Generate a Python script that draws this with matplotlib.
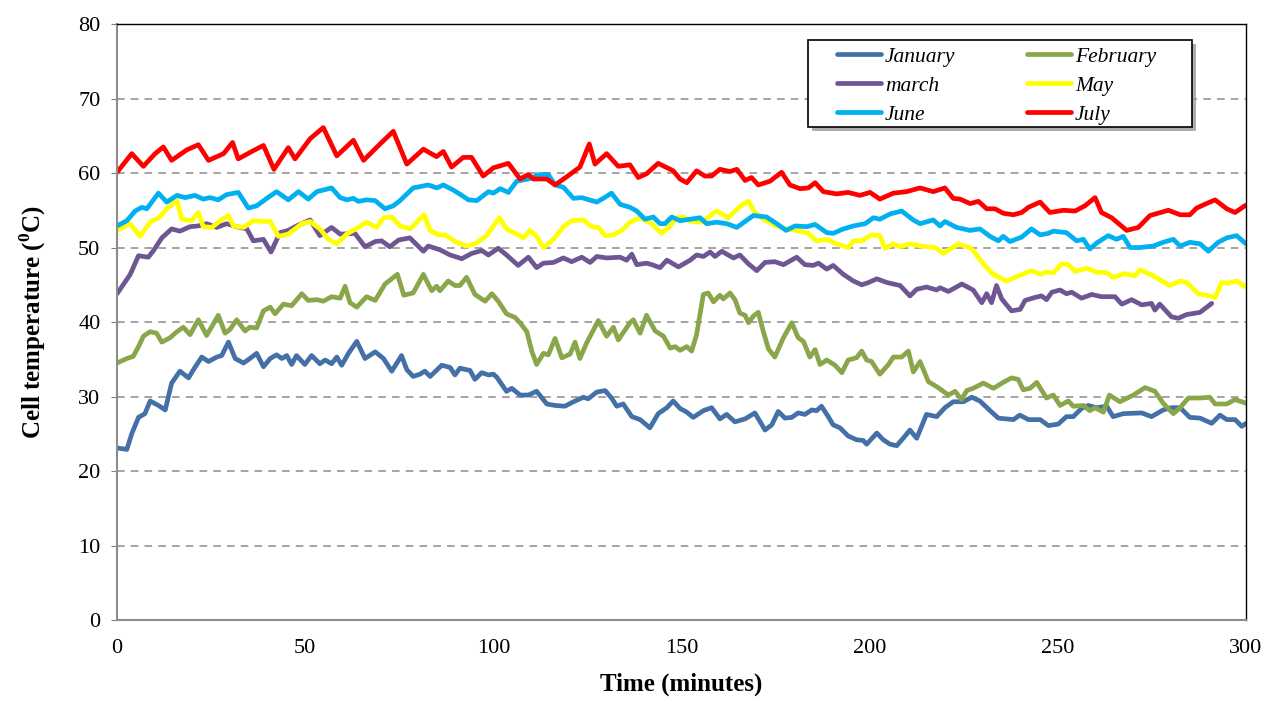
import matplotlib.pyplot as plt
from matplotlib.patches import Rectangle

plt.rcParams['font.family'] = 'Liberation Serif'
plt.rcParams['mathtext.fontset'] = 'custom'
plt.rcParams['mathtext.rm'] = 'Liberation Serif'
plt.rcParams['mathtext.bf'] = 'Liberation Serif:bold'

# Cell temperature logs (minutes, deg C) for each month
jan_t = [0, 2.6, 3.9, 5.7, 7.4, 8.8, 11, 12.8, 14.5, 16.7, 19, 20.3, 22.5, 24.3, 26.5, 27.8, 29.6, 31.4, 33.6, 35.3,
         37.1, 38.9, 40.7, 42.4, 43.8, 45.1, 46.4, 47.7, 49.9, 51.7, 53.9, 55.3, 57, 58.4, 59.7, 61.5, 63.7, 65.9,
         68.6, 70.8, 73, 75.6, 77, 78.7, 80.5, 81.8, 83.2, 86.3, 88.5, 89.8, 91.1, 93.8, 95.1, 96.9, 98.7, 100,
         100.9, 103.5, 104.9, 107.1, 109.3, 111.5, 114.2, 116.4, 119, 121.3, 123.9, 125.2, 127.5, 129.7, 131.4,
         132.8, 134.5, 136.8, 139, 141.6, 143.8, 146.1, 147.8, 149.6, 151.4, 153.1, 155.8, 158, 160.2, 162, 164.2,
         166.9, 169.5, 172.2, 174, 175.7, 177.5, 179.3, 181, 182.8, 184.6, 185.9, 187.2, 189, 190.3, 192.1, 194.3,
         196.5, 198.3, 199.2, 201.9, 203.6, 205.4, 207.2, 209.4, 210.7, 212.5, 215.1, 217.8, 220, 222.2, 224.9,
         227.1, 229.3, 232, 234.2, 238.2, 239.9, 242.2, 245.3, 247.5, 250.1, 252.3, 254.1, 256.3, 258.1, 260.3,
         263, 264.7, 267.4, 272.3, 274.9, 278, 280.2, 282.5, 285.1, 287.8, 290.9, 293.1, 294.9, 297.1, 298.9, 300]
jan_v = [23.1, 22.9, 25, 27.2, 27.7, 29.4, 28.8, 28.2, 31.8, 33.4, 32.5, 33.6, 35.3, 34.7, 35.3, 35.5, 37.3, 35.1,
         34.5, 35.1, 35.8, 34, 35.1, 35.6, 35.1, 35.5, 34.3, 35.5, 34.3, 35.5, 34.4, 34.9, 34.4, 35.3, 34.2, 35.8,
         37.4, 35.1, 36, 35.1, 33.4, 35.5, 33.6, 32.7, 33, 33.4, 32.7, 34.2, 33.9, 32.9, 33.8, 33.5, 32.3, 33.2,
         32.9, 33, 32.6, 30.7, 31.1, 30.2, 30.2, 30.7, 29, 28.8, 28.7, 29.3, 29.9, 29.7, 30.6, 30.8, 29.8, 28.7,
         29, 27.3, 26.9, 25.8, 27.7, 28.5, 29.4, 28.4, 27.9, 27.2, 28.1, 28.5, 27, 27.6, 26.6, 27, 27.8, 25.5,
         26.2, 28, 27.1, 27.2, 27.8, 27.6, 28.2, 28.1, 28.7, 27.3, 26.2, 25.8, 24.7, 24.2, 24.1, 23.6, 25.1, 24.2,
         23.6, 23.4, 24.7, 25.5, 24.4, 27.6, 27.3, 28.5, 29.3, 29.3, 29.9, 29.4, 28.1, 27.1, 26.9, 27.5, 26.9,
         26.9, 26.1, 26.3, 27.3, 27.3, 28.4, 28.8, 28.5, 28.7, 27.3, 27.7, 27.8, 27.3, 28.2, 28.5, 28.5, 27.2,
         27.1, 26.4, 27.5, 26.9, 26.9, 26, 26.4]

feb_t = [0, 2.6, 4.3, 5.7, 7, 8.8, 10.5, 11.9, 14.1, 15.9, 17.6, 19.4, 21.6, 23.8, 25.2, 26.9, 28.7, 30, 31.8, 34,
         35.3, 37.1, 38.9, 40.7, 42, 44.2, 46.4, 49.1, 50.8, 53.1, 54.8, 57, 59.3, 60.6, 61.9, 63.7, 66.3, 68.6,
         71.2, 74.5, 76.2, 78.7, 81.4, 83.6, 84.9, 85.8, 88, 89.8, 91.1, 92.9, 95.1, 97.8, 99.6, 101.3, 103.5,
         105.8, 107.1, 108.9, 110.2, 111.5, 113.3, 114.6, 116.4, 118.2, 120.4, 121.7, 123, 124.8, 127.9, 130.1,
         131.9, 133.2, 136.3, 137.2, 139, 140.7, 143, 145.2, 147, 148.3, 149.6, 151.4, 152.7, 154, 155.8, 157.1,
         158.5, 160.2, 161.1, 162.9, 164.2, 165.5, 166.9, 167.8, 169.1, 170.4, 171.7, 173.1, 174.8, 177.1, 179.3,
         181, 182.4, 184.1, 185.5, 186.8, 188.6, 190.8, 192.6, 194.3, 196.5, 197.9, 199.2, 200.5, 202.7, 205,
         206.3, 208.5, 210.3, 211.6, 213.4, 215.6, 218.2, 220.9, 222.7, 224.4, 225.8, 227.5, 230.2, 232.9, 235.5,
         237.7, 239.5, 240.8, 242.6, 244.4, 247, 248.8, 250.6, 252.8, 254.1, 256.8, 258.5, 259.9, 262.1, 263.7,
         266.5, 270.1, 273.2, 275.8, 278, 280.7, 282.5, 284.7, 287.8, 290.4, 291.8, 294.9, 297.1, 300]
feb_v = [34.5, 35.1, 35.4, 36.7, 38.1, 38.7, 38.5, 37.3, 37.9, 38.7, 39.3, 38.3, 40.3, 38.2, 39.4, 40.9, 38.5, 39,
         40.3, 38.8, 39.3, 39.2, 41.5, 42, 41.1, 42.4, 42.2, 43.8, 42.9, 43, 42.8, 43.4, 43.2, 44.8, 42.6, 42,
         43.4, 42.9, 45.1, 46.4, 43.6, 43.9, 46.4, 44.2, 44.8, 44.2, 45.5, 44.9, 44.9, 46, 43.7, 42.8, 43.8, 42.8,
         41.1, 40.6, 39.9, 38.7, 36.1, 34.3, 35.8, 35.6, 37.8, 35.2, 35.7, 37.3, 35.1, 37.2, 40.2, 38.1, 39.3,
         37.6, 39.9, 40.3, 38.5, 40.9, 38.8, 38.1, 36.5, 36.7, 36.2, 36.7, 36.1, 38.3, 43.7, 43.9, 42.7, 43.6,
         43.1, 43.9, 43, 41.2, 40.9, 39.9, 40.8, 41.3, 38.8, 36.4, 35.3, 37.9, 39.9, 37.9, 37.4, 35.3, 36.3, 34.3,
         34.9, 34.2, 33.2, 34.9, 35.2, 36.1, 34.9, 34.7, 33, 34.3, 35.3, 35.3, 36.1, 33.3, 34.7, 32, 31.2, 30.2,
         30.7, 29.6, 30.8, 31.1, 31.8, 31.1, 31.9, 32.5, 32.3, 30.9, 31.1, 31.9, 29.8, 30.2, 28.8, 29.4, 28.7,
         28.8, 28.1, 28.5, 27.9, 30.2, 29.3, 30.2, 31.2, 30.7, 29.1, 27.7, 28.5, 29.8, 29.8, 29.9, 29, 29, 29.6,
         29.1]

mar_t = [0, 3.5, 5.7, 8.3, 9.7, 11.9, 14.5, 16.7, 19.4, 21.6, 23.8, 26.5, 29.1, 31.8, 34.5, 36.2, 38.9, 40.9, 43.3,
         45.5, 47.7, 51.3, 53.9, 57, 59.3, 63.2, 65.9, 68.6, 70.3, 72.5, 74.8, 77.8, 81.4, 82.7, 85.8, 88.5, 91.6,
         94.2, 96.9, 98.7, 101.3, 103.5, 106.6, 109.3, 111.5, 113.3, 116, 118.6, 120.8, 123.5, 125.7, 127.5,
         130.1, 133.7, 135.4, 136.8, 138.1, 140.7, 142.1, 144.3, 146.1, 149.2, 152.3, 154, 155.8, 157.6, 158.9,
         160.7, 163.8, 165.5, 167.8, 170, 172.2, 174.8, 177.1, 180.6, 182.8, 185, 186.4, 188.6, 190.3, 193, 195.7,
         197.9, 199.7, 201.9, 204.6, 208.1, 210.7, 212.5, 215.1, 217.8, 218.7, 220.9, 224.5, 227.5, 229.8, 231.1,
         232.4, 233.7, 235.1, 237.7, 240, 241.3, 243.9, 245.7, 247, 248.4, 250.6, 252.3, 253.7, 256.3, 259, 261.6,
         265.2, 267, 269.6, 272.3, 274.9, 275.8, 277.1, 280.2, 282, 284.2, 287.8, 290.9]
mar_v = [43.8, 46.4, 48.9, 48.7, 49.6, 51.3, 52.5, 52.2, 52.8, 52.9, 53.2, 52.7, 53.2, 52.8, 52.5, 50.9, 51.1, 49.4,
         52, 52.3, 52.9, 53.7, 51.6, 52.7, 51.8, 51.9, 50.1, 50.8, 50.9, 50.1, 51, 51.3, 49.5, 50.2, 49.7, 49, 48.5,
         49.2, 49.6, 49, 49.9, 49, 47.6, 48.7, 47.3, 47.9, 48, 48.6, 48.1, 48.7, 48, 48.8, 48.6, 48.7, 48.3, 49.1,
         47.7, 47.9, 47.7, 47.3, 48.3, 47.4, 48.3, 49, 48.8, 49.4, 48.8, 49.5, 48.6, 49, 47.8, 46.9, 48, 48.1, 47.7,
         48.7, 47.7, 47.6, 47.9, 47.1, 47.6, 46.4, 45.5, 45, 45.3, 45.8, 45.3, 44.9, 43.5, 44.4, 44.7, 44.3, 44.6,
         44.1, 45.1, 44.3, 42.6, 43.8, 42.6, 44.9, 43.1, 41.5, 41.7, 42.9, 43.3, 43.5, 43, 44, 44.3, 43.8, 44,
         43.2, 43.7, 43.4, 43.4, 42.4, 43, 42.3, 42.5, 41.6, 42.4, 40.7, 40.5, 41, 41.3, 42.5]

may_t = [0, 3.5, 6.1, 8.8, 11.4, 13.2, 15.9, 17.2, 19.8, 21.6, 22.9, 25.2, 27.4, 29.6, 30.9, 33.6, 36.2, 38.9, 40.7,
         42.9, 45.5, 49.1, 51.3, 53.9, 56.2, 58.4, 61, 64.1, 66.3, 69, 70.8, 73, 75.2, 77.9, 81.6, 83.2, 85.4,
         87.2, 89.8, 92.9, 95.1, 98.2, 101.6, 103.5, 105.8, 108, 109.7, 111.5, 113.3, 116, 118.6, 120.8, 123.9,
         126.1, 127.9, 129.7, 131.9, 134.1, 136.3, 139, 142.1, 144.7, 147, 148.7, 150.5, 152.3, 155.4, 159.3,
         162.4, 165.5, 167.8, 169.5, 171.7, 175.3, 177.9, 180.6, 183.7, 185.9, 188.6, 191.2, 194.3, 195.7, 197.9,
         200.5, 202.7, 204.1, 206.3, 208.1, 210.7, 213.4, 217.4, 219.6, 223.5, 227, 230.2, 232.9, 236.4, 239.1,
         243, 245.3, 247, 248.8, 251, 252.8, 254.6, 257.7, 260.3, 263, 264.7, 267.8, 270.5, 271.8, 275.4, 279.8,
         282.5, 284.2, 287.3, 290.4, 291.8, 293.5, 294.9, 297.5, 300]
may_v = [52.3, 53.2, 51.5, 53.4, 54.1, 55.2, 56.3, 53.8, 53.6, 54.7, 52.8, 52.7, 53.6, 54.3, 52.9, 52.7, 53.6, 53.5,
         53.5, 51.5, 51.8, 53.2, 53.5, 52.5, 51.1, 50.5, 51.8, 52.7, 53.4, 52.7, 54, 54.1, 52.9, 52.5, 54.4, 52.3,
         51.7, 51.7, 50.8, 50.2, 50.5, 51.6, 54, 52.5, 51.9, 51.3, 52.3, 51.5, 50, 51.1, 52.8, 53.6, 53.7, 52.8,
         52.7, 51.6, 51.7, 52.3, 53.4, 54, 53.2, 51.9, 52.9, 54, 54.1, 53.5, 53.4, 54.9, 54, 55.5, 56.2, 54.7,
         53.8, 52.9, 52.5, 52.3, 51.9, 50.9, 51.1, 50.5, 50, 50.9, 50.9, 51.7, 51.6, 49.9, 50.5, 50.1, 50.5, 50.2,
         50, 49.2, 50.5, 49.9, 47.8, 46.4, 45.5, 46.1, 46.9, 46.4, 46.7, 46.6, 47.8, 47.7, 46.8, 47.2, 46.7, 46.6,
         46, 46.5, 46.2, 47, 46.2, 44.9, 45.5, 45.3, 43.8, 43.5, 43.3, 45.3, 45.2, 45.5, 44.7]

jun_t = [0, 2.6, 4.8, 6.6, 7.9, 11, 13.2, 15.9, 18.1, 20.7, 22.9, 24.7, 26.9, 29.1, 32.2, 34.9, 37.1, 39.8, 42.4,
         45.5, 48.2, 50.8, 53.1, 57, 59.3, 61.1, 62.8, 64.1, 66.3, 68.6, 71.2, 73.4, 75.2, 78.7, 82.7, 85, 86.7,
         89.4, 91.6, 93.4, 95.6, 98.7, 100, 101.8, 104, 106.2, 109.3, 112.4, 114.6, 116.4, 118.6, 121.3, 123.5,
         124.8, 127.5, 129.2, 131.4, 133.7, 136.3, 138.1, 140.3, 142.5, 144.3, 145.6, 147.4, 149.6, 152.3, 154.9,
         156.7, 159.3, 162, 164.7, 169.1, 172.6, 175.3, 177.8, 180.2, 183.3, 185.5, 188.6, 190.3, 193, 195.7,
         198.8, 201, 202.7, 205.4, 208.5, 211.6, 213.4, 216.9, 218.7, 220, 223.1, 226.7, 229.3, 232, 234.2, 235.5,
         237.3, 240.4, 243, 245.3, 247.5, 248.8, 252.3, 255, 256.8, 258.5, 260.3, 263.4, 265.6, 267.4, 269.2,
         271.8, 275.4, 278, 280.7, 282.5, 285.1, 287.8, 290, 292.6, 294.9, 297.5, 300]
jun_v = [52.9, 53.6, 54.9, 55.4, 55.2, 57.3, 56.1, 57, 56.7, 57, 56.5, 56.7, 56.4, 57.1, 57.4, 55.3, 55.6, 56.6, 57.5,
         56.4, 57.5, 56.5, 57.5, 58, 56.7, 56.4, 56.6, 56.2, 56.4, 56.3, 55.2, 55.6, 56.3, 58, 58.4, 58, 58.4,
         57.7, 57, 56.4, 56.3, 57.5, 57.3, 57.9, 57.4, 58.9, 59.2, 59.8, 59.8, 58.4, 58.1, 56.6, 56.7, 56.5, 56.1,
         56.6, 57.3, 55.8, 55.4, 54.9, 53.8, 54.1, 53.2, 53.2, 54.1, 53.6, 53.8, 54, 53.2, 53.4, 53.2, 52.7, 54.3,
         54.1, 53.2, 52.3, 52.9, 52.8, 53.1, 52, 51.9, 52.5, 52.9, 53.2, 54, 53.8, 54.5, 54.9, 53.7, 53.2, 53.7,
         52.9, 53.5, 52.7, 52.3, 52.5, 51.5, 50.9, 51.5, 50.8, 51.4, 52.5, 51.7, 51.9, 52.2, 52, 50.9, 51.1, 49.8,
         50.6, 51.6, 51.1, 51.5, 50, 50, 50.2, 50.7, 51.1, 50.2, 50.7, 50.5, 49.5, 50.7, 51.3, 51.6, 50.5]

jul_t = [0, 3.9, 7, 10.1, 12.3, 14.5, 18.5, 21.6, 24.3, 28.3, 30.7, 32.2, 36.2, 38.9, 41.7, 45.5, 47.3, 51.3, 54.8,
         58.4, 62.8, 65.5, 69.9, 73.4, 77, 81.4, 84.9, 86.7, 88.9, 92, 94.2, 97.3, 100, 104, 107.1, 109.3, 110.6,
         114.2, 116.4, 119.5, 123, 125.5, 127, 130.1, 133.2, 136.3, 138.5, 140.7, 143.8, 147.8, 149.6, 151.4, 154,
         156.2, 158, 160.2, 162.9, 164.7, 166.9, 168.6, 170.4, 173.5, 176.6, 178.8, 181.5, 183.7, 185.5, 187.7,
         191.2, 194.3, 197.4, 200.1, 202.7, 206.3, 209.8, 213.4, 216.9, 220, 222.2, 224, 226.7, 228.9, 231.1,
         233.3, 235.5, 238.2, 240.4, 242.2, 245.3, 247.9, 251.5, 254.6, 257.2, 259.9, 261.6, 264.3, 268.3, 271.4,
         274.5, 279.4, 282.5, 285.1, 286.9, 289.5, 291.8, 294.9, 297.1, 300]
jul_v = [60.1, 62.6, 60.9, 62.6, 63.5, 61.7, 63.1, 63.8, 61.7, 62.6, 64.1, 61.9, 63, 63.7, 60.5, 63.4, 61.9, 64.6,
         66.1, 62.3, 64.4, 61.7, 63.9, 65.6, 61.2, 63.2, 62.2, 62.9, 60.8, 62.1, 62.1, 59.6, 60.7, 61.3, 59.2,
         59.8, 59.2, 59.2, 58.4, 59.5, 60.8, 63.9, 61.2, 62.6, 60.9, 61.1, 59.4, 59.9, 61.3, 60.3, 59.2, 58.7,
         60.3, 59.6, 59.6, 60.5, 60.2, 60.5, 59, 59.4, 58.4, 58.9, 60.1, 58.4, 57.9, 58, 58.7, 57.5, 57.2, 57.4,
         57, 57.4, 56.5, 57.3, 57.5, 58, 57.5, 58, 56.6, 56.5, 55.9, 56.2, 55.2, 55.2, 54.6, 54.4, 54.7, 55.4,
         56.1, 54.7, 55, 54.9, 55.6, 56.7, 54.7, 54, 52.3, 52.7, 54.3, 55, 54.4, 54.4, 55.3, 55.9, 56.4, 55.2,
         54.7, 55.7]

names = ['January', 'February', 'march', 'May', 'June', 'July']
colors = ['#4470A8', '#8AA64A', '#6E5693', '#FFFF00', '#00B0F0', '#FF0000']
series = [(jan_t, jan_v), (feb_t, feb_v), (mar_t, mar_v), (may_t, may_v), (jun_t, jun_v), (jul_t, jul_v)]

fig = plt.figure(figsize=(12.71, 7.09), dpi=100)
ax = fig.add_axes([0.0921, 0.1255, 0.8882, 0.8406])

lines = []
for (t, v), name, c in zip(series, names, colors):
    ln, = ax.plot(t, v, color=c, lw=3.4, label=name, solid_joinstyle='round', solid_capstyle='round')
    lines.append(ln)

ax.set_xlim(0, 300)
ax.set_ylim(0, 80)
ax.set_xticks(range(0, 301, 50))
ax.set_yticks(range(0, 81, 10))
ax.tick_params(axis='x', length=0, pad=14, labelsize=16)
ax.tick_params(axis='y', length=4, direction='out', color='#808080', pad=8, labelsize=16)

for y in range(10, 80, 10):
    ax.axhline(y, color='#8c8c8c', lw=1.1, ls=(0, (5, 4)), zorder=0)

for side in ['left', 'bottom']:
    ax.spines[side].set_color('#8c8c8c')
    ax.spines[side].set_linewidth(1.5)
for side in ['top', 'right']:
    ax.spines[side].set_color('black')
    ax.spines[side].set_linewidth(1)

ax.set_xlabel('Time (minutes)', fontsize=18, fontweight='bold', labelpad=10)
ax.set_ylabel(r'Cell temperature ($^{\mathbf{0}}$C)', fontsize=18, fontweight='bold', labelpad=22)

# legend frame with drop shadow, drawn as separate boxes
box_x, box_y, box_w, box_h = 0.612, 0.827, 0.340, 0.146
ax.add_patch(Rectangle((box_x + 0.004, box_y - 0.007), box_w, box_h, transform=ax.transAxes,
                       facecolor='#9a9a9a', edgecolor='none', zorder=9, alpha=0.8))
ax.add_patch(Rectangle((box_x, box_y), box_w, box_h, transform=ax.transAxes,
                       facecolor='white', edgecolor='black', lw=1.2, zorder=10))

# column-wise fill -> January/march/June then February/May/July
order = [0, 2, 4, 1, 3, 5]
leg = ax.legend([lines[i] for i in order], [names[i] for i in order], ncol=2,
                loc='upper left', bbox_to_anchor=(0.6375, 0.962), borderaxespad=0, borderpad=0,
                frameon=False, prop={'family': 'Liberation Serif', 'style': 'italic', 'size': 15.5},
                handlelength=2.05, handletextpad=0.2, labelspacing=0.42, columnspacing=3.3)
leg.set_zorder(11)

fig.savefig('out.png', dpi=100)
